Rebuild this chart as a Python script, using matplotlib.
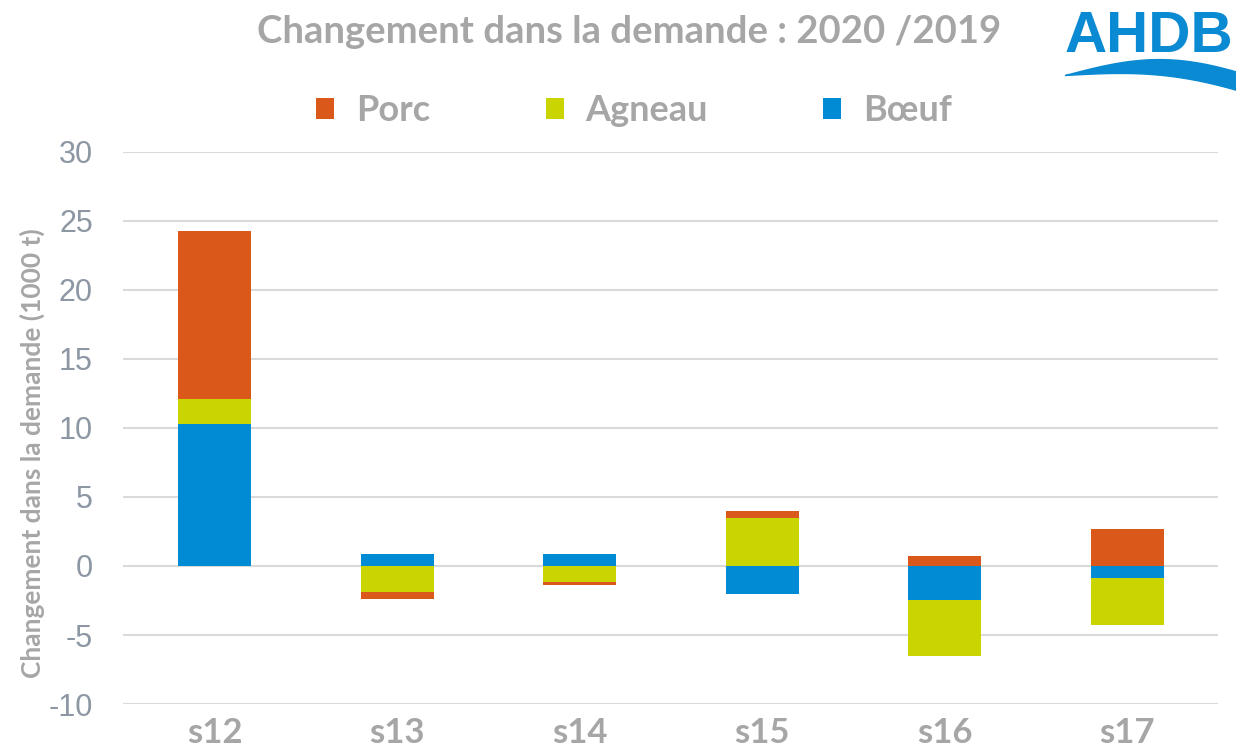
import numpy as np
import matplotlib.pyplot as plt
from matplotlib.patches import Polygon

plt.rcParams['axes.unicode_minus'] = False

# Données (1000 t)
semaines = ['s12', 's13', 's14', 's15', 's16', 's17']
boeuf = [10.3, 0.85, 0.85, -2.05, -2.48, -0.9]
agneau = [1.8, -1.9, -1.17, 3.47, -4.05, -3.36]
porc = [12.15, -0.46, -0.21, 0.53, 0.73, 2.65]

couleurs = {'Porc': '#D9581A', 'Agneau': '#C9D400', 'Bœuf': '#008BD4'}
gris = '#A6A6A6'

fig = plt.figure(figsize=(12.36, 7.55), dpi=100)
ax = fig.add_axes([0.0998, 0.0675, 0.886, 0.7315])

x = np.arange(len(semaines))
base_pos = np.zeros(len(semaines))
base_neg = np.zeros(len(semaines))
barres = {}
for nom, serie in [('Bœuf', boeuf), ('Agneau', agneau), ('Porc', porc)]:
    v = np.array(serie)
    bas = np.where(v >= 0, base_pos, base_neg)
    barres[nom] = ax.bar(x, v, 0.4, bottom=bas, color=couleurs[nom], linewidth=0, zorder=3)
    base_pos = base_pos + np.where(v >= 0, v, 0)
    base_neg = base_neg + np.where(v < 0, v, 0)

ax.set_xlim(-0.5, len(semaines) - 0.5)
ax.set_ylim(-10, 30)
ax.set_yticks(range(-10, 31, 5))
ax.grid(axis='y', color='#DADADA', linewidth=1.5, zorder=0)
for s in ax.spines.values():
    s.set_visible(False)
ax.tick_params(length=0)
ax.tick_params(axis='y', labelsize=22, labelcolor='#8D97A3', pad=22)
for t in ax.get_yticklabels():
    t.set_fontfamily('Liberation Sans')
ax.set_xticks(x)
ax.set_xticklabels(semaines, fontsize=25, fontweight='bold', color=gris, family='Lato')
ax.tick_params(axis='x', pad=9)

ax.set_ylabel('Changement dans la demande (1000 t)', fontsize=19, fontweight='bold',
              color=gris, family='Lato')
ax.yaxis.set_label_coords(-0.072, 0.455)

fig.text(0.509, 0.957, 'Changement dans la demande : 2020 /2019', ha='center', va='center',
         fontsize=27.5, fontweight='bold', color=gris, family='Lato')

# légende
poignees = [barres['Porc'], barres['Agneau'], barres['Bœuf']]
fig.legend(poignees, ['Porc', 'Agneau', 'Bœuf'], loc='center', bbox_to_anchor=(0.513, 0.853),
           ncol=3, frameon=False, prop={'family': 'Lato', 'weight': 'bold', 'size': 26},
           labelcolor=gris, handlelength=0.5, handleheight=0.5, handletextpad=0.6,
           columnspacing=3.2)

# logo AHDB
fig.text(0.861, 0.931, 'AHDB', ha='left', va='baseline', fontsize=42, fontweight='bold',
         color='#0A8AD2', family='Liberation Sans')
t = np.linspace(0, 1, 60)
haut = 0.9 + 0.024 * np.sin(np.pi * t) - 0.006 * t
bas_ = 0.9 + 0.018 * np.sin(np.pi * t * 0.9) - 0.036 * t
xs = 0.862 + t * 0.16
pts = np.concatenate([np.column_stack([xs, haut]), np.column_stack([xs[::-1], bas_[::-1]])])
fig.patches.append(Polygon(pts, closed=True, transform=fig.transFigure, color='#0A8AD2'))

fig.savefig('out.png', dpi=100)
